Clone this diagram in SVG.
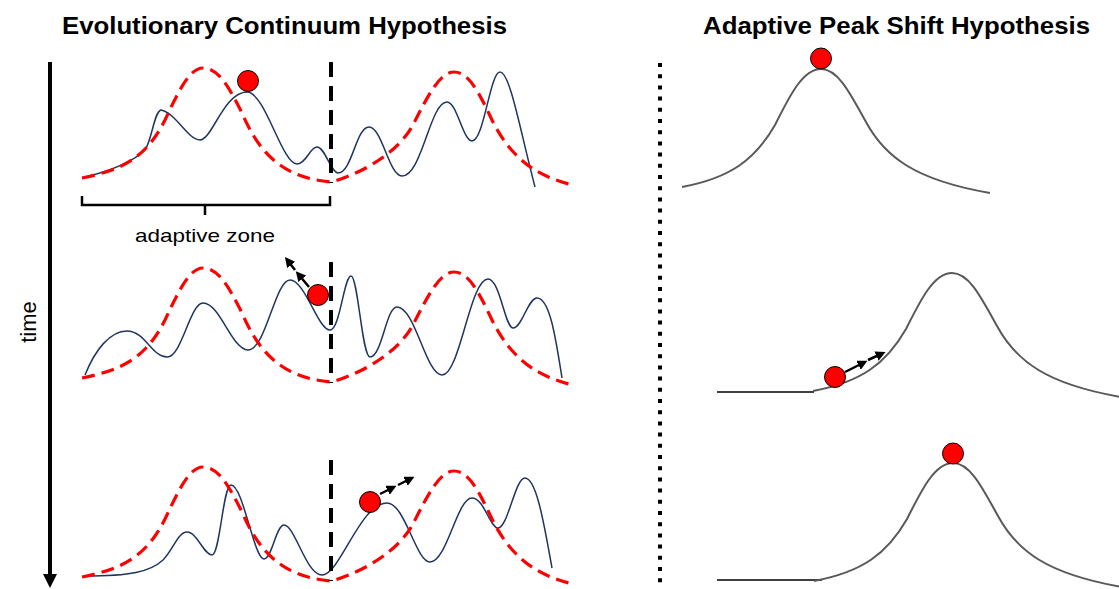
<svg xmlns="http://www.w3.org/2000/svg" width="1119" height="589" viewBox="0 0 1119 589">
<style>
.title{font-family:"Liberation Sans",Arial,sans-serif;font-weight:bold;font-size:24px;fill:#000}
.lbl{font-family:"Liberation Sans",Arial,sans-serif;font-size:19px;fill:#000}
.red{fill:none;stroke:#FF0000;stroke-width:3.2;stroke-dasharray:13 7}
.navy{fill:none;stroke:#1F3560;stroke-width:1.5}
.bdash{stroke:#000;stroke-width:4;stroke-dasharray:15 9}
.grey{fill:none;stroke:#595959;stroke-width:2}
.flat{stroke:#000;stroke-width:1.5}
.ball{fill:#FF0000;stroke:#000;stroke-width:1}
.arr{stroke:#000;stroke-width:2.5;marker-end:url(#ah)}
</style>
<defs>
<marker id="ah" markerWidth="4" markerHeight="4" refX="2" refY="2" orient="auto" markerUnits="strokeWidth">
<path d="M0,0 L4,2 L0,4 z" fill="#000"/>
</marker>
<path id="redbells" d="M82,178 C120,170 145,160 165,120 C180,88 190,68 203,68 C218,68 228,85 242,113 C258,150 280,178 332,182 C365,172 398,152 413,125 C428,95 440,72 454,72 C468,72 478,90 492,120 C508,152 530,175 573,185"/>
<path id="bell" d="M682,187 C730,178 755,160 775,125 C790,95 803,69 821,69 C838,69 850,93 866,122 C885,157 915,180 990,193"/>
</defs>

<g id="titles">
<text class="title" x="62" y="34" textLength="445" lengthAdjust="spacingAndGlyphs">Evolutionary Continuum Hypothesis</text>
<text class="title" x="703" y="34" textLength="387" lengthAdjust="spacingAndGlyphs">Adaptive Peak Shift Hypothesis</text>
</g>

<g id="time-axis">
<line x1="50" y1="62" x2="50" y2="576" stroke="#000" stroke-width="4"/>
<polygon points="43,574 57,574 50,588" fill="#000"/>
<text class="lbl" transform="translate(36,322) rotate(-90)" text-anchor="middle" style="font-size:22px">time</text>
</g>

<g id="divider">
<line x1="660" y1="63" x2="660" y2="589" stroke="#000" stroke-width="4" stroke-dasharray="4 7.2"/>
</g>

<g id="continuum-row1">
<path class="navy" d="M82,178 C110,171 132,163 145,150 C152,140 154,112 161,110 C176,113 188,140 200,140 C212,140 224,92 247,92 C265,92 282,164 297,164 C306,164 310,147 317,147 C325,147 331,173 338,173 C352,173 356,127 369,127 C382,127 389,176 402,176 C422,176 430,102 447,102 C457,102 463,141 472,141 C484,141 490,72 500,72 C510,72 520,130 535,187"/>
<use href="#redbells" class="red"/>
<line class="bdash" x1="331" y1="62" x2="331" y2="183"/>
<circle class="ball" cx="248" cy="81" r="10.5"/>
</g>

<g id="adaptive-zone">
<path d="M82,196 L82,205 L330,205 L330,196 M205,205 L205,215" fill="none" stroke="#000" stroke-width="2.5"/>
<text class="lbl" x="205" y="242" text-anchor="middle" textLength="140" lengthAdjust="spacingAndGlyphs">adaptive zone</text>
</g>

<g id="continuum-row2">
<path class="navy" d="M85,375 C95,350 110,331 127,331 C145,331 152,357 167,357 C182,357 190,303 203,303 C220,303 232,350 248,350 C266,350 275,280 290,280 C305,280 318,330 330,330 C340,330 344,276 351,276 C358,276 362,357 370,357 C382,357 386,307 397,307 C415,307 426,375 442,375 C460,375 470,279 488,279 C500,279 505,328 513,328 C522,328 528,298 537,298 C550,298 556,340 562,378"/>
<use href="#redbells" class="red" transform="translate(0,200)"/>
<line class="bdash" x1="331" y1="262" x2="331" y2="383"/>
<circle class="ball" cx="318" cy="295" r="10.5"/>
<line class="arr" x1="309" y1="287" x2="299" y2="275"/>
<line class="arr" x1="295" y1="270" x2="288" y2="261"/>
</g>

<g id="continuum-row3">
<path class="navy" d="M85,576 C130,576 150,572 163,560 C173,550 178,532 187,532 C197,532 204,555 212,555 C220,555 223,485 231,485 C243,485 254,559 264,559 C272,559 276,525 284,525 C295,525 306,575 322,575 C340,575 360,503 387,503 C405,503 416,562 430,562 C447,562 457,498 472,498 C484,498 490,528 498,528 C508,528 515,478 525,478 C537,478 545,530 552,568"/>
<use href="#redbells" class="red" transform="translate(0,399)"/>
<line class="bdash" x1="331" y1="460" x2="331" y2="581"/>
<circle class="ball" cx="370" cy="502" r="10.5"/>
<line class="arr" x1="380" y1="494" x2="392" y2="488"/>
<line class="arr" x1="398" y1="485" x2="410" y2="479"/>
</g>

<g id="peakshift-row1">
<use href="#bell" class="grey"/>
<circle class="ball" cx="821" cy="58.5" r="10.5"/>
</g>

<g id="peakshift-row2">
<line class="flat" x1="717" y1="392" x2="814" y2="392"/>
<use href="#bell" class="grey" transform="translate(131,204)"/>
<circle class="ball" cx="835" cy="377" r="10.5"/>
<line class="arr" x1="845" y1="372" x2="863" y2="363"/>
<line class="arr" x1="868" y1="360" x2="881" y2="354"/>
</g>

<g id="peakshift-row3">
<line class="flat" x1="717" y1="580" x2="822" y2="580"/>
<use href="#bell" class="grey" transform="translate(132,394)"/>
<circle class="ball" cx="953" cy="453.5" r="10.5"/>
</g>
</svg>
